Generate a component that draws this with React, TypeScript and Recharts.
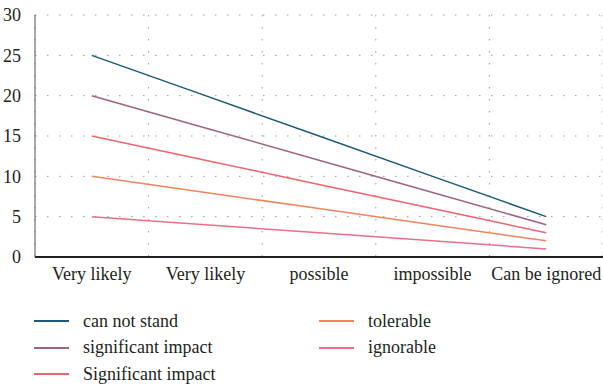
import React from "react";
import { LineChart, Line, XAxis, YAxis, CartesianGrid } from "recharts";

const categories = ["Very likely", "Very likely", "possible", "impossible", "Can be ignored"];
const canNotStand = [25, 20, 15, 10, 5];
const significantImpactLower = [20, 16, 12, 8, 4];
const significantImpactUpper = [15, 12, 9, 6, 3];
const tolerable = [10, 8, 6, 4, 2];
const ignorable = [5, 4, 3, 2, 1];
const yTicks = [0, 5, 10, 15, 20, 25, 30];
const gridTicks = [0, 1, 2, 3, 4, 5];
const labelTicks = [0.5, 1.5, 2.5, 3.5, 4.5];

const series = [
  { key: "s1", name: "can not stand", values: canNotStand, color: "#1b5a78" },
  { key: "s2", name: "significant impact", values: significantImpactLower, color: "#9e6483" },
  { key: "s3", name: "Significant impact", values: significantImpactUpper, color: "#f0636f" },
  { key: "s4", name: "tolerable", values: tolerable, color: "#f4845e" },
  { key: "s5", name: "ignorable", values: ignorable, color: "#ea6f86" },
];

const data = categories.map((c, i) => {
  const row: any = { cat: c, pos: labelTicks[i] };
  series.forEach((s) => (row[s.key] = s.values[i]));
  return row;
});

const FONT = "Liberation Serif";

const LegendBlock = () => {
  const cols = [series.slice(0, 3), series.slice(3)];
  return (
    <div
      style={{
        position: "absolute",
        left: 34,
        top: 308,
        display: "flex",
        fontFamily: FONT,
        fontSize: 18,
        color: "#231f20",
      }}
    >
      {cols.map((col, ci) => (
        <div key={ci} style={{ width: 285 }}>
          {col.map((s) => (
            <div key={s.key} style={{ display: "flex", alignItems: "center", height: 26.5 }}>
              <div style={{ width: 35, height: 2, background: s.color, marginRight: 14 }} />
              <span>{s.name}</span>
            </div>
          ))}
        </div>
      ))}
    </div>
  );
};

export default function App() {
  return (
    <div style={{ position: "absolute", left: 0, top: 0, width: 603, height: 390, background: "#fff" }}>
      <LineChart
        width={603}
        height={390}
        data={data}
        margin={{ top: 15, right: 0, bottom: 0, left: 0 }}
      >
        <XAxis
          xAxisId="main"
          type="number"
          dataKey="pos"
          domain={[0, 5]}
          ticks={labelTicks}
          interval={0}
          tickFormatter={(v: number) => categories[Math.floor(v)]}
          tickLine={false}
          axisLine={{ stroke: "#231f20", strokeWidth: 2 }}
          tick={{ fill: "#231f20", fontSize: 18, fontFamily: FONT }}
          tickMargin={4}
          height={133}
        />
        <XAxis
          xAxisId="grid"
          type="number"
          dataKey="pos"
          domain={[0, 5]}
          ticks={gridTicks}
          height={0}
          hide
        />
        <YAxis
          width={35}
          domain={[0, 30]}
          ticks={yTicks}
          tickLine={false}
          axisLine={{ stroke: "#555", strokeWidth: 1 }}
          tick={{ fill: "#231f20", fontSize: 18, fontFamily: FONT }}
          tickMargin={8}
        />
        <CartesianGrid
          xAxisId="grid"
          stroke="#999"
          strokeDasharray="1.5 10.5"
          strokeWidth={1}
        />
        {series.map((s) => (
          <Line
            key={s.key}
            xAxisId="main"
            dataKey={s.key}
            name={s.name}
            stroke={s.color}
            strokeWidth={1.5}
            dot={false}
            activeDot={false}
            isAnimationActive={false}
          />
        ))}
      </LineChart>
      <LegendBlock />
    </div>
  );
}
